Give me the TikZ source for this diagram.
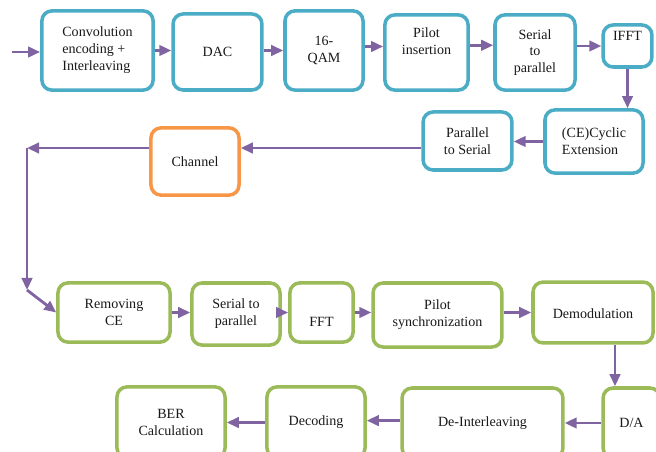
\documentclass[tikz,border=0pt]{standalone}
\usepackage{fontspec}
\setmainfont{Liberation Serif}
\usetikzlibrary{arrows.meta}
\definecolor{txblue}{RGB}{75,172,198}
\definecolor{rxgreen}{RGB}{155,187,89}
\definecolor{chorange}{RGB}{247,150,70}
\definecolor{flowpurple}{RGB}{128,100,162}

\begin{document}
\begin{tikzpicture}[x=0.025cm, y=-0.025cm]
        \useasboundingbox (0,0) rectangle (656,452);
        \begin{scope}[every node/.style={draw=txblue, line width=2.5pt, rounded corners=0.25cm, align=center, inner sep=1pt, text=black!90}]
                \node[minimum width=2.78cm, minimum height=1.98cm, align=left] (conv) at (97.5,50.5) {Convolution\\encoding +\\Interleaving};
                \node[minimum width=2.22cm, minimum height=1.9cm] (dac) at (217.5,52) {DAC};
                \node[minimum width=1.95cm, minimum height=1.98cm] (qam) at (324,50.5) {16-\\QAM};
                \node[minimum width=2.08cm, minimum height=1.88cm] (pilot) at (426.5,52.5) {Pilot\\insertion\\\strut};
                \node[minimum width=2cm, minimum height=1.88cm] (s2p) at (535,52.5) {Serial\\to\\parallel};
                \node[minimum width=1.22cm, minimum height=1.05cm] (ifft) at (627.5,46) {IFFT\\[0.1cm]};
                \node[minimum width=2.45cm, minimum height=1.58cm, align=left] (ce) at (594,141.5) {(CE)Cyclic\\Extension};
                \node[minimum width=2.22cm, minimum height=1.45cm] (p2s) at (467.5,141) {Parallel\\to Serial};
                \node[draw=chorange, minimum width=2.2cm, minimum height=1.68cm] (chan) at (195,161.5) {Channel};
        \end{scope}
        \begin{scope}[every node/.style={draw=rxgreen, line width=2.5pt, rounded corners=0.25cm, align=center, inner sep=1pt, text=black!90}]
                \node[minimum width=2.8cm, minimum height=1.48cm] (rce) at (114,312.5) {Removing\\CE};
                \node[minimum width=2.2cm, minimum height=1.55cm] (sp) at (236,314) {Serial to\\parallel};
                \node[minimum width=1.58cm, minimum height=1.48cm] (fft) at (321.5,312.5) {\strut\\FFT};
                \node[minimum width=3.22cm, minimum height=1.6cm] (psync) at (437.5,315) {Pilot\\synchronization};
                \node[minimum width=3cm, minimum height=1.52cm] (demod) at (593,312.5) {\\[-0.1cm]Demodulation};
                \node[minimum width=1.42cm, minimum height=1.75cm] (da) at (631.5,423) {D/A};
                \node[minimum width=4.02cm, minimum height=1.75cm] (deint) at (482.5,423) {De-Interleaving};
                \node[minimum width=2.45cm, minimum height=1.78cm] (dec) at (316,422.5) {Decoding};
                \node[minimum width=2.7cm, minimum height=1.78cm] (ber) at (171,422.5) {BER\\Calculation};
        \end{scope}
        \begin{scope}[every path/.style={color=flowpurple, line width=2pt, ->, >={Triangle[length=0.3cm,width=0.26cm]}},
                      every edge/.append style={line width=2pt, color=flowpurple}]
                \coordinate (in) at (12,52);
                \coordinate (c1) at (27,148);
                \coordinate (c2) at (27,290);
                \path (in) edge (in -| conv.west);
                \path (conv.east) edge (conv.east -| dac.west);
                \path (qam.west -| dac.east) edge (qam.west);
                \path ([yshift=0.1cm]qam.east) edge ([yshift=0.1cm]qam.east -| pilot.west);
                \path ([yshift=0.18cm]pilot.east) edge ([yshift=0.18cm]pilot.east -| s2p.west);
                \path (s2p.east |- ifft.west) edge (ifft.west);
                \path (ifft.south) edge (ifft.south |- ce.north);
                \path (ce.west) edge (ce.west -| p2s.east);
                \path (p2s.west |- c1) edge (chan.east |- c1);
                \path (chan.west |- c1) edge (c1);
                \path (c1) edge (c2);
                \path (c2) edge (rce.west);
                \path (rce.east) edge (rce.east -| sp.west);
                \path (fft.west -| sp.east) edge (fft.west);
                \path (fft.east) edge (fft.east -| psync.west);
                \path (demod.west -| psync.east) edge (demod.west);
                \path ([xshift=0.55cm]demod.south) edge ([xshift=0.55cm]demod.south |- da.north);
                \path (da.west) edge (da.west -| deint.east);
                \path ([yshift=0.06cm]deint.west) edge ([yshift=0.06cm]deint.west -| dec.east);
                \path (dec.west) edge (dec.west -| ber.east);
        \end{scope}
\end{tikzpicture}
\end{document}
